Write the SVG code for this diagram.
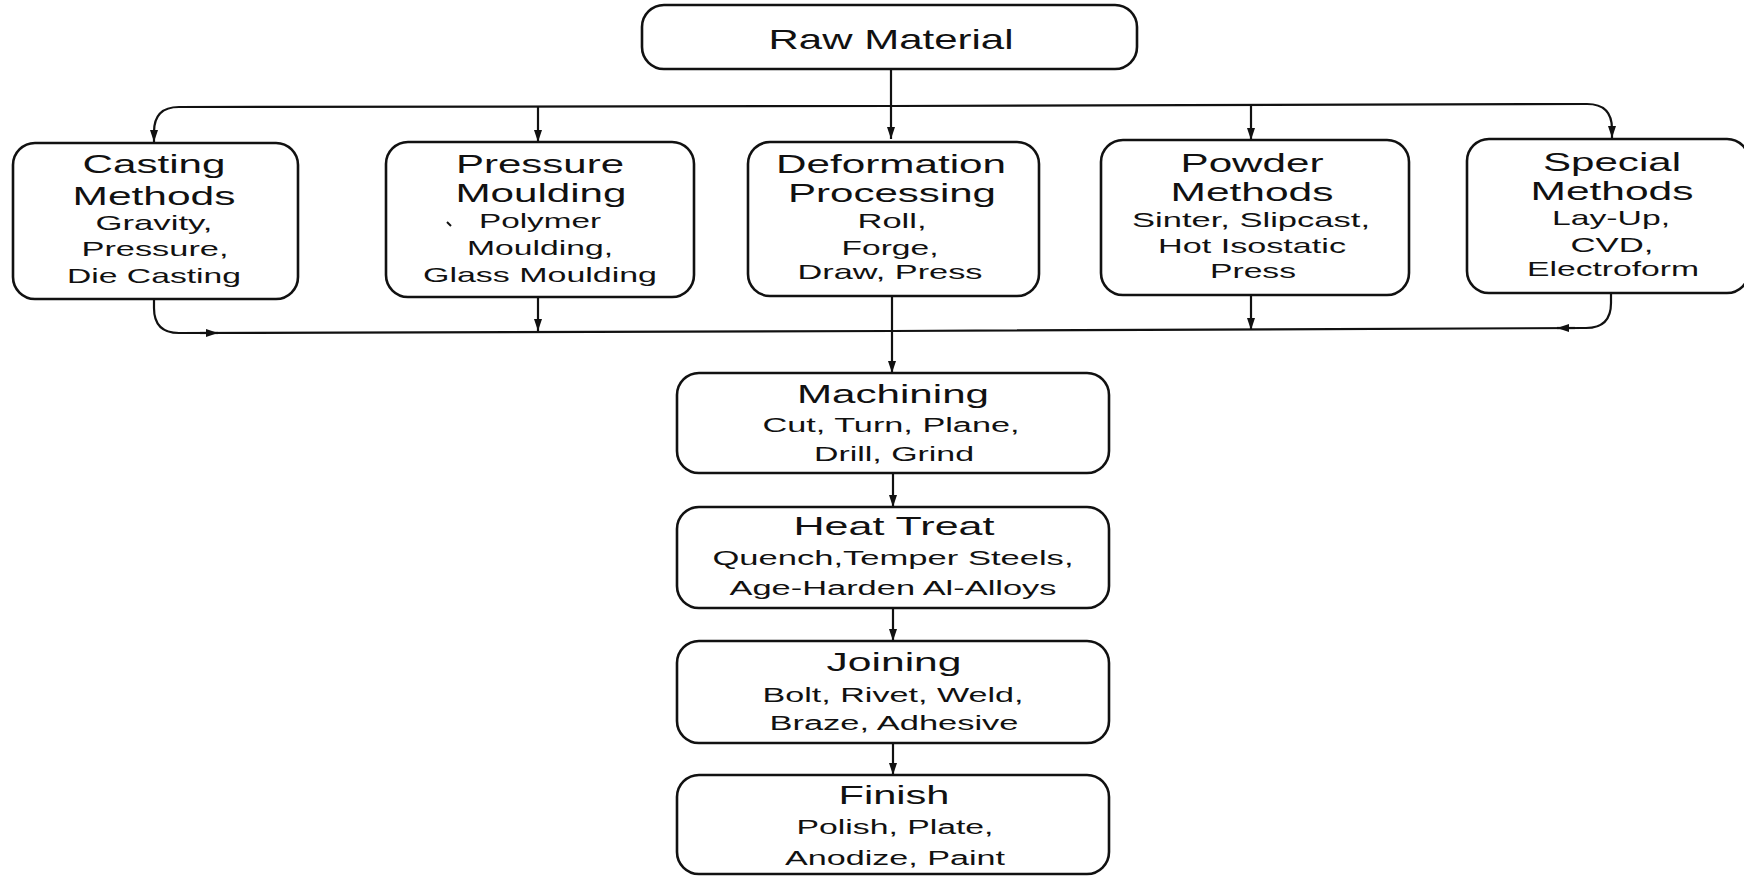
<svg xmlns="http://www.w3.org/2000/svg" width="1744" height="877" viewBox="0 0 1744 877">
<style>
.box{fill:#fff;stroke:#111;stroke-width:2.6}
.ln{fill:none;stroke:#111;stroke-width:2.2}
text{font-family:"Liberation Sans",Arial,sans-serif;fill:#111;text-anchor:middle}
.t{font-size:26px}
.r{font-size:28px}
.s{font-size:21px}
.u{font-size:20px}
</style>
<defs>
<marker id="ah" viewBox="0 0 12 8" refX="12" refY="4" markerWidth="12" markerHeight="8" markerUnits="userSpaceOnUse" orient="auto">
<path d="M0,0 L12,4 L0,8 z" fill="#111"/>
</marker>
</defs>
<rect width="1744" height="877" fill="#fff"/>

<g id="connectors">
<path class="ln" d="M891,69 V139" marker-end="url(#ah)"/>
<path class="ln" d="M891,106 L179,107 Q154,107 154,132 V142" marker-end="url(#ah)"/>
<path class="ln" d="M891,106 L1587,104 Q1612,104 1612,129 V138" marker-end="url(#ah)"/>
<path class="ln" d="M538,107 V142" marker-end="url(#ah)"/>
<path class="ln" d="M1251,105 V140" marker-end="url(#ah)"/>
<path class="ln" d="M154,299 V308 Q154,333 179,333 L892,331"/>
<path class="ln" d="M200,333 L218,333" marker-end="url(#ah)"/>
<path class="ln" d="M1611,293 V303 Q1611,328 1586,328 L892,331"/>
<path class="ln" d="M1575,328 L1557,328" marker-end="url(#ah)"/>
<path class="ln" d="M538,297 V331" marker-end="url(#ah)"/>
<path class="ln" d="M1251,295 V330" marker-end="url(#ah)"/>
<path class="ln" d="M892,296 V373" marker-end="url(#ah)"/>
<path class="ln" d="M893,473 V507" marker-end="url(#ah)"/>
<path class="ln" d="M893,608 V641" marker-end="url(#ah)"/>
<path class="ln" d="M893,743 V775" marker-end="url(#ah)"/>
</g>

<g id="raw-material">
<rect class="box" x="642" y="5" width="495" height="64" rx="22"/>
<text class="r" x="891" y="49" textLength="245" lengthAdjust="spacingAndGlyphs">Raw Material</text>
</g>

<g id="casting">
<rect class="box" x="13" y="143" width="285" height="156" rx="22"/>
<text class="t" x="154" y="173" textLength="143" lengthAdjust="spacingAndGlyphs">Casting</text>
<text class="t" x="154" y="205" textLength="163" lengthAdjust="spacingAndGlyphs">Methods</text>
<text class="s" x="154" y="230" textLength="117" lengthAdjust="spacingAndGlyphs">Gravity,</text>
<text class="s" x="155" y="256" textLength="147" lengthAdjust="spacingAndGlyphs">Pressure,</text>
<text class="s" x="154" y="283" textLength="174" lengthAdjust="spacingAndGlyphs">Die Casting</text>
</g>

<g id="pressure-moulding">
<rect class="box" x="386" y="142" width="308" height="155" rx="22"/>
<text class="t" x="540" y="173" textLength="168" lengthAdjust="spacingAndGlyphs">Pressure</text>
<text class="t" x="541" y="202" textLength="171" lengthAdjust="spacingAndGlyphs">Moulding</text>
<path d="M447,222 L451,226" stroke="#111" stroke-width="2"/>
<text class="s" x="540" y="228" textLength="122" lengthAdjust="spacingAndGlyphs">Polymer</text>
<text class="s" x="540" y="255" textLength="146" lengthAdjust="spacingAndGlyphs">Moulding,</text>
<text class="s" x="540" y="282" textLength="234" lengthAdjust="spacingAndGlyphs">Glass Moulding</text>
</g>

<g id="deformation">
<rect class="box" x="748" y="142" width="291" height="154" rx="22"/>
<text class="t" x="891" y="173" textLength="230" lengthAdjust="spacingAndGlyphs">Deformation</text>
<text class="t" x="892" y="202" textLength="208" lengthAdjust="spacingAndGlyphs">Processing</text>
<text class="s" x="892" y="228" textLength="69" lengthAdjust="spacingAndGlyphs">Roll,</text>
<text class="s" x="890" y="255" textLength="97" lengthAdjust="spacingAndGlyphs">Forge,</text>
<text class="s" x="890" y="279" textLength="185" lengthAdjust="spacingAndGlyphs">Draw, Press</text>
</g>

<g id="powder">
<rect class="box" x="1101" y="140" width="308" height="155" rx="22"/>
<text class="t" x="1252" y="172" textLength="143" lengthAdjust="spacingAndGlyphs">Powder</text>
<text class="t" x="1252" y="201" textLength="163" lengthAdjust="spacingAndGlyphs">Methods</text>
<text class="s" x="1251" y="227" textLength="238" lengthAdjust="spacingAndGlyphs">Sinter, Slipcast,</text>
<text class="s" x="1252" y="253" textLength="188" lengthAdjust="spacingAndGlyphs">Hot Isostatic</text>
<text class="s" x="1253" y="278" textLength="86" lengthAdjust="spacingAndGlyphs">Press</text>
</g>

<g id="special">
<rect class="box" x="1467" y="139" width="282" height="154" rx="22"/>
<text class="t" x="1612" y="171" textLength="138" lengthAdjust="spacingAndGlyphs">Special</text>
<text class="t" x="1612" y="200" textLength="163" lengthAdjust="spacingAndGlyphs">Methods</text>
<text class="s" x="1611" y="225" textLength="118" lengthAdjust="spacingAndGlyphs">Lay-Up,</text>
<text class="s" x="1612" y="252" textLength="83" lengthAdjust="spacingAndGlyphs">CVD,</text>
<text class="s" x="1613" y="276" textLength="172" lengthAdjust="spacingAndGlyphs">Electroform</text>
</g>

<g id="machining">
<rect class="box" x="677" y="373" width="432" height="100" rx="22"/>
<text class="t" x="893" y="403" textLength="192" lengthAdjust="spacingAndGlyphs">Machining</text>
<text class="u" x="891" y="432" textLength="257" lengthAdjust="spacingAndGlyphs">Cut, Turn, Plane,</text>
<text class="u" x="894" y="461" textLength="160" lengthAdjust="spacingAndGlyphs">Drill, Grind</text>
</g>

<g id="heat-treat">
<rect class="box" x="677" y="507" width="432" height="101" rx="22"/>
<text class="t" x="894" y="535" textLength="201" lengthAdjust="spacingAndGlyphs">Heat Treat</text>
<text class="u" x="893" y="565" textLength="361" lengthAdjust="spacingAndGlyphs">Quench,Temper Steels,</text>
<text class="u" x="893" y="595" textLength="327" lengthAdjust="spacingAndGlyphs">Age-Harden Al-Alloys</text>
</g>

<g id="joining">
<rect class="box" x="677" y="641" width="432" height="102" rx="22"/>
<text class="t" x="894" y="671" textLength="135" lengthAdjust="spacingAndGlyphs">Joining</text>
<text class="u" x="893" y="702" textLength="261" lengthAdjust="spacingAndGlyphs">Bolt, Rivet, Weld,</text>
<text class="u" x="894" y="730" textLength="249" lengthAdjust="spacingAndGlyphs">Braze, Adhesive</text>
</g>

<g id="finish">
<rect class="box" x="677" y="775" width="432" height="99" rx="22"/>
<text class="t" x="894" y="804" textLength="111" lengthAdjust="spacingAndGlyphs">Finish</text>
<text class="u" x="895" y="834" textLength="197" lengthAdjust="spacingAndGlyphs">Polish, Plate,</text>
<text class="u" x="895" y="865" textLength="220" lengthAdjust="spacingAndGlyphs">Anodize, Paint</text>
</g>
</svg>
